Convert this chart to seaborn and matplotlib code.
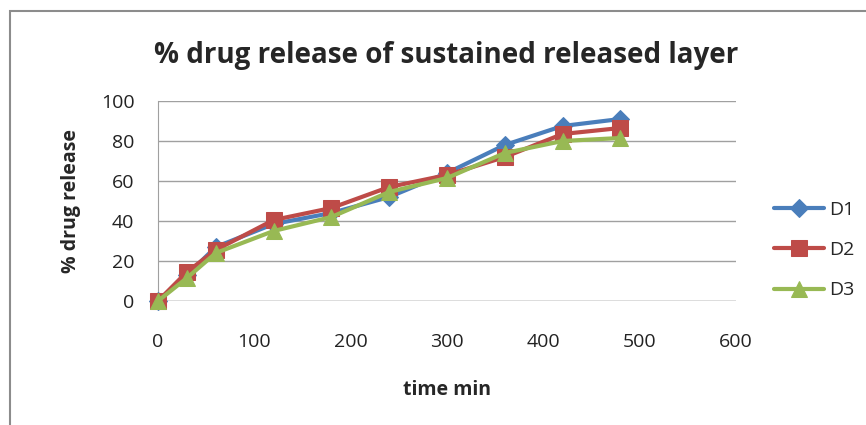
import matplotlib
matplotlib.use('Agg')
import matplotlib.pyplot as plt
import seaborn as sns
import pandas as pd
from matplotlib.patches import Rectangle

time_min = [0, 30, 60, 120, 180, 240, 300, 360, 420, 480]
d1 = [0, 13, 27, 38.5, 44, 52, 64, 78, 87.5, 91]
d2 = [0, 14.5, 25.5, 40.5, 46.5, 57, 63, 72, 83.5, 86.5]
d3 = [0, 11.5, 24, 35, 42, 54.5, 61.5, 74, 80, 81.5]

series = ['D1', 'D2', 'D3']
colors = ['#4A7EBB', '#BE4B48', '#98B954']
markers = ['D', 's', '^']
sizes = [9, 11, 11]

df = pd.DataFrame({'time': time_min * 3,
                   'release': d1 + d2 + d3,
                   'series': [s for s in series for _ in time_min]})

sns.set_style('white')
plt.rcParams['font.family'] = ['Open Sans', 'DejaVu Sans']

fig = plt.figure(figsize=(8.66, 4.25), dpi=100)
ax = fig.add_axes([158 / 866, 1 - 301 / 425, 578 / 866, 200 / 425])

# frame around the chart area
fig.patches.append(Rectangle((10 / 866, -0.05), 1.1, 1 - 11 / 425 + 0.05,
                             transform=fig.transFigure, fill=False,
                             edgecolor='#8c8c8c', linewidth=1.5))

ax.axhline(0, color='#a0a0a0', linewidth=1, zorder=1)
for s, c, m, ms in zip(series, colors, markers, sizes):
    sub = df[df['series'] == s]
    sns.lineplot(data=sub, x='time', y='release', ax=ax, color=c, marker=m,
                 markersize=ms, markeredgecolor=c, linewidth=3, label=s,
                 clip_on=False, zorder=3)

ax.set_xlim(0, 600)
ax.set_ylim(0, 100)
ax.set_xticks(range(0, 601, 100))
ax.set_yticks(range(0, 101, 20))
ax.yaxis.grid(True, color='#a0a0a0', linewidth=1)
ax.xaxis.grid(False)
for side in ['top', 'right', 'bottom']:
    ax.spines[side].set_visible(False)
ax.spines['left'].set_color('#a0a0a0')
ax.tick_params(axis='both', labelsize=14, colors='#222222', length=0)
ax.tick_params(axis='x', pad=23)
ax.tick_params(axis='y', pad=17)

ax.set_xlabel('time min', fontsize=14, fontweight='bold', labelpad=21)
ax.set_ylabel('% drug release', fontsize=14, fontweight='bold', labelpad=14)
fig.text(446 / 866, 1 - 55 / 425, '% drug release of sustained released layer',
         ha='center', va='center', fontsize=20, fontweight='bold')

leg = ax.legend(loc='center left', bbox_to_anchor=(1.036, 0.255), frameon=False,
                fontsize=14, labelspacing=1.15, handlelength=2.55,
                handletextpad=0.25)

fig.savefig('out.png', dpi=100)
